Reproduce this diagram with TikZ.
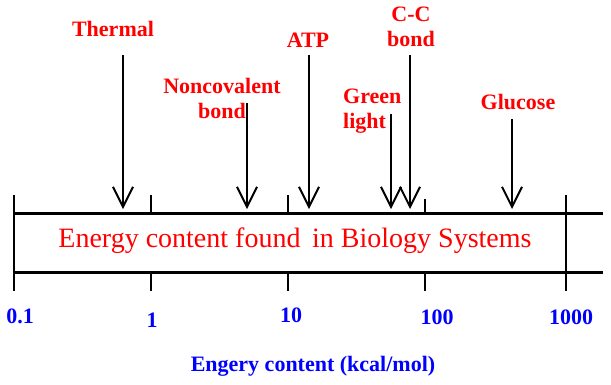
\documentclass[tikz,border=0pt]{standalone}
\usepackage{fontspec}
\setmainfont{LiberationSerif}[Extension=.ttf,UprightFont=*-Regular,BoldFont=*-Bold]
\usetikzlibrary{arrows.meta}
\definecolor{labelred}{HTML}{FF0000}
\definecolor{axisblue}{HTML}{0000FF}

\begin{document}
\begin{tikzpicture}[x=1pt,y=-1pt, >={Straight Barb[length=20pt,width=20pt]},
    lbl/.style={font=\fontsize{22}{25}\selectfont\bfseries,text=labelred,inner sep=0pt},
    num/.style={font=\fontsize{22}{25}\selectfont\bfseries,text=axisblue,inner sep=0pt},
    ptr/.style={->,line width=2pt},
    band/.style={line width=3pt},
    tick/.style={line width=2pt}]
        \useasboundingbox (0,0) rectangle (611,384);
        % band with the scale
        \draw[band] (13,213) -- (603,213);
        \draw[band] (13,272) -- (603,272);
        \draw[tick] (14,195) -- (14,291);
        \draw[tick] (566,195) -- (566,291);
        \draw[tick] (151,195) -- (151,213) (151,272) -- (151,291);
        \draw[tick] (288,195) -- (288,213) (288,272) -- (288,291);
        \draw[tick] (425,199) -- (425,213) (425,272) -- (425,291);
        \node[font=\fontsize{28}{30}\selectfont,text=labelred] (title) at (295,241) {Energy content found\, in Biology Systems};
        % scale values
        \node[num] (v01) at (20,316) {0.1};
        \node[num] (v1) at (152,320) {1};
        \node[num] (v10) at (291,315) {10};
        \node[num] (v100) at (437,317) {100};
        \node[num] (v1000) at (571,317) {1000};
        \node[num] (axis) at (313,366) {Engery content (kcal/mol)};
        % labels and pointers
        \node[lbl] (thermal) at (113,29) {Thermal};
        \node[lbl,align=center] (noncov) at (222,98) {Noncovalent\\bond};
        \node[lbl] (atp) at (308,40) {ATP};
        \node[lbl,align=left,anchor=west] (green) at (343,111) {Green\\light};
        \node[lbl,align=center] (ccbond) at (411,27) {C-C\\bond};
        \node[lbl] (glucose) at (518,102) {Glucose};
        \coordinate (thermal top) at (123,55);
        \coordinate (thermal tip) at (123,209);
        \coordinate (noncov top) at (247,103);
        \coordinate (noncov tip) at (247,209);
        \coordinate (atp top) at (309,55);
        \coordinate (atp tip) at (309,209);
        \coordinate (green top) at (391,114);
        \coordinate (green tip) at (391,209);
        \coordinate (ccbond top) at (410,55);
        \coordinate (ccbond tip) at (410,209);
        \coordinate (glucose top) at (512,119);
        \coordinate (glucose tip) at (512,209);
        \draw[ptr] (thermal top) -- (thermal tip);
        \draw[ptr] (noncov top) -- (noncov tip);
        \draw[ptr] (atp top) -- (atp tip);
        \draw[ptr] (green top) -- (green tip);
        \draw[ptr] (ccbond top) -- (ccbond tip);
        \draw[ptr] (glucose top) -- (glucose tip);
      \end{tikzpicture}
\end{document}
